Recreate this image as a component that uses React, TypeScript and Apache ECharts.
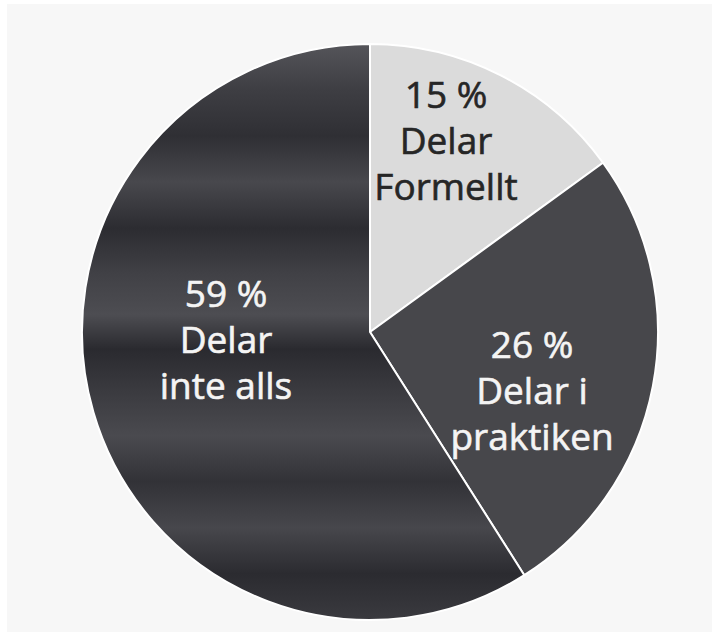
import React, { useEffect, useRef } from "react";
import * as echarts from "echarts";

const categories = ["Delar\nFormellt", "Delar i\npraktiken", "Delar\ninte alls"];
const values = [15, 26, 59];

export default function App() {
  const ref = useRef<HTMLDivElement>(null);
  useEffect(() => {
    document.body.style.margin = "0";
    const chart = echarts.init(ref.current!, null, { renderer: "svg" });
    const streaks = new echarts.graphic.LinearGradient(0, 0, 0, 1, [
      { offset: 0, color: "#55555a" },
      { offset: 0.08, color: "#3e3e43" },
      { offset: 0.16, color: "#2f2f34" },
      { offset: 0.24, color: "#48484d" },
      { offset: 0.32, color: "#2c2c31" },
      { offset: 0.4, color: "#414146" },
      { offset: 0.47, color: "#4d4d52" },
      { offset: 0.53, color: "#2a2a2f" },
      { offset: 0.6, color: "#3a3a3f" },
      { offset: 0.68, color: "#4a4a4f" },
      { offset: 0.76, color: "#323237" },
      { offset: 0.84, color: "#47474c" },
      { offset: 0.92, color: "#2b2b30" },
      { offset: 1, color: "#3a3a3f" },
    ]);
    const colors = ["#dbdbdb", "#47474b", streaks];
    const labelColors = ["#262626", "#f4f4f4", "#f4f4f4"];
    const labelPos = [
      [446, 139],
      [532, 389],
      [226, 338],
    ];
    chart.setOption({
      animation: false,
      backgroundColor: "#ffffff",
      graphic: [
        {
          type: "rect",
          z: -10,
          silent: true,
          shape: { x: 7, y: 4, width: 705, height: 628 },
          style: { fill: "#f7f7f7" },
        },
      ],
      series: [
        {
          type: "pie",
          center: [370, 332],
          radius: [0, 288],
          startAngle: 90,
          clockwise: true,
          silent: true,
          itemStyle: { borderColor: "#ffffff", borderWidth: 2 },
          label: {
            show: true,
            position: "inside",
            fontFamily: "Open Sans",
            fontSize: 37,
            lineHeight: 46,
            align: "center",
            verticalAlign: "middle",
            formatter: (p: any) => `${p.value} %\n${p.name}`,
          },
          labelLine: { show: false },
          labelLayout: (p: any) => ({
            x: labelPos[p.dataIndex][0],
            y: labelPos[p.dataIndex][1],
            align: "center",
            verticalAlign: "middle",
          }),
          data: values.map((v, i) => ({
            value: v,
            name: categories[i],
            itemStyle: { color: colors[i] },
            label: {
              color: labelColors[i],
              textBorderColor: labelColors[i],
              textBorderWidth: 0.6,
            },
          })),
        },
      ],
    });
    return () => chart.dispose();
  }, []);
  return <div ref={ref} style={{ width: 712, height: 632 }} />;
}
